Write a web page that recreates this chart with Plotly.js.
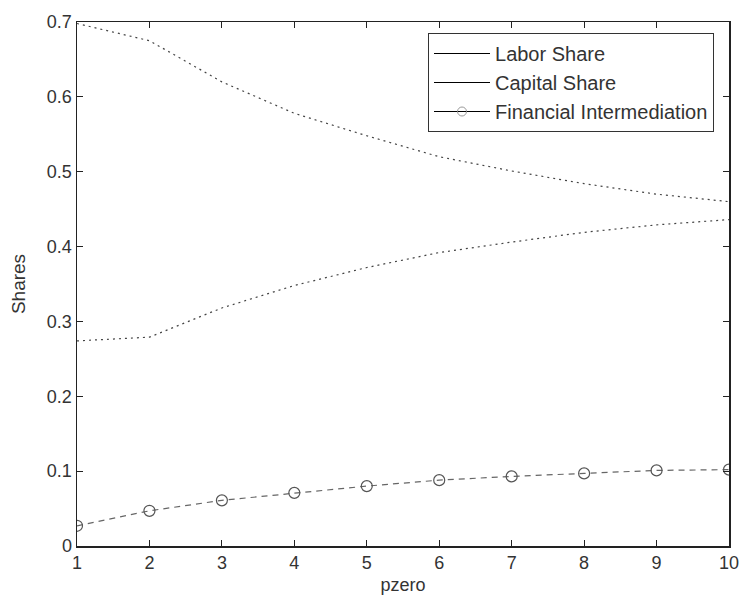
<!DOCTYPE html>
<html><head><meta charset="utf-8">
<script src="https://cdn.plot.ly/plotly-3.0.1.min.js"></script>
<style>html,body{margin:0;padding:0;background:#fff}#c{width:744px;height:598px}</style>
</head><body><div id="c"></div>
<script>
const pzero = [1, 2, 3, 4, 5, 6, 7, 8, 9, 10];
const laborShare = [0.698, 0.675, 0.620, 0.578, 0.548, 0.520, 0.501, 0.484, 0.470, 0.460];
const capitalShare = [0.274, 0.279, 0.318, 0.348, 0.372, 0.392, 0.406, 0.419, 0.429, 0.436];
const finInter = [0.027, 0.047, 0.061, 0.071, 0.080, 0.088, 0.093, 0.097, 0.101, 0.102];
const xTicks = [1, 2, 3, 4, 5, 6, 7, 8, 9, 10];
const yTicks = [0, 0.1, 0.2, 0.3, 0.4, 0.5, 0.6, 0.7];
const yTickText = ['0', '0.1', '0.2', '0.3', '0.4', '0.5', '0.6', '0.7'];

const lineStyle = {color: '#444', width: 1.2, dash: '2px,4px'};
const traces = [
  {x: pzero, y: laborShare, mode: 'lines', line: lineStyle, showlegend: false},
  {x: pzero, y: capitalShare, mode: 'lines', line: lineStyle, showlegend: false},
  {x: pzero, y: finInter, mode: 'lines+markers', line: {color: '#666', width: 1.2, dash: '6px,5px'},
   marker: {symbol: 'circle-open', size: 11, color: '#555', line: {width: 1.2}}, showlegend: false},
  {x: [null], y: [null], mode: 'lines', name: 'Labor Share', line: {color: '#000', width: 1}},
  {x: [null], y: [null], mode: 'lines', name: 'Capital Share', line: {color: '#000', width: 1}},
  {x: [null], y: [null], mode: 'lines+markers', name: 'Financial Intermediation', line: {color: '#000', width: 1},
   marker: {symbol: 'circle-open', size: 9, color: '#999'}}
];
const font = {family: 'Liberation Sans, Arial, sans-serif', size: 18, color: '#333'};
const layout = {
  width: 744, height: 598,
  margin: {l: 77, r: 15, t: 22, b: 52},
  paper_bgcolor: '#fff', plot_bgcolor: '#fff',
  font: font,
  showlegend: true,
  legend: {x: 0.977, xanchor: 'right', y: 0.979, yanchor: 'top', bgcolor: '#fff',
    bordercolor: '#333', borderwidth: 1, font: {family: font.family, size: 20, color: '#333'},
    itemwidth: 56, tracegroupgap: 0},
  xaxis: {range: [1, 10], tickvals: xTicks, ticks: 'inside', ticklen: 6, tickcolor: '#222',
    showline: true, linecolor: '#222', linewidth: 1.5, mirror: 'allticks', showgrid: false, zeroline: false,
    title: {text: 'pzero', font: {size: 18}, standoff: 6}, tickfont: {size: 18}},
  yaxis: {range: [0, 0.7], tickvals: yTicks, ticktext: yTickText, ticks: 'inside', ticklen: 6, tickcolor: '#222',
    showline: true, linecolor: '#222', linewidth: 1.5, mirror: 'allticks', showgrid: false, zeroline: false,
    title: {text: 'Shares', font: {size: 19}, standoff: 16}, tickfont: {size: 18}}
};
Plotly.newPlot('c', traces, layout, {displayModeBar: false, staticPlot: true});
</script></body></html>
